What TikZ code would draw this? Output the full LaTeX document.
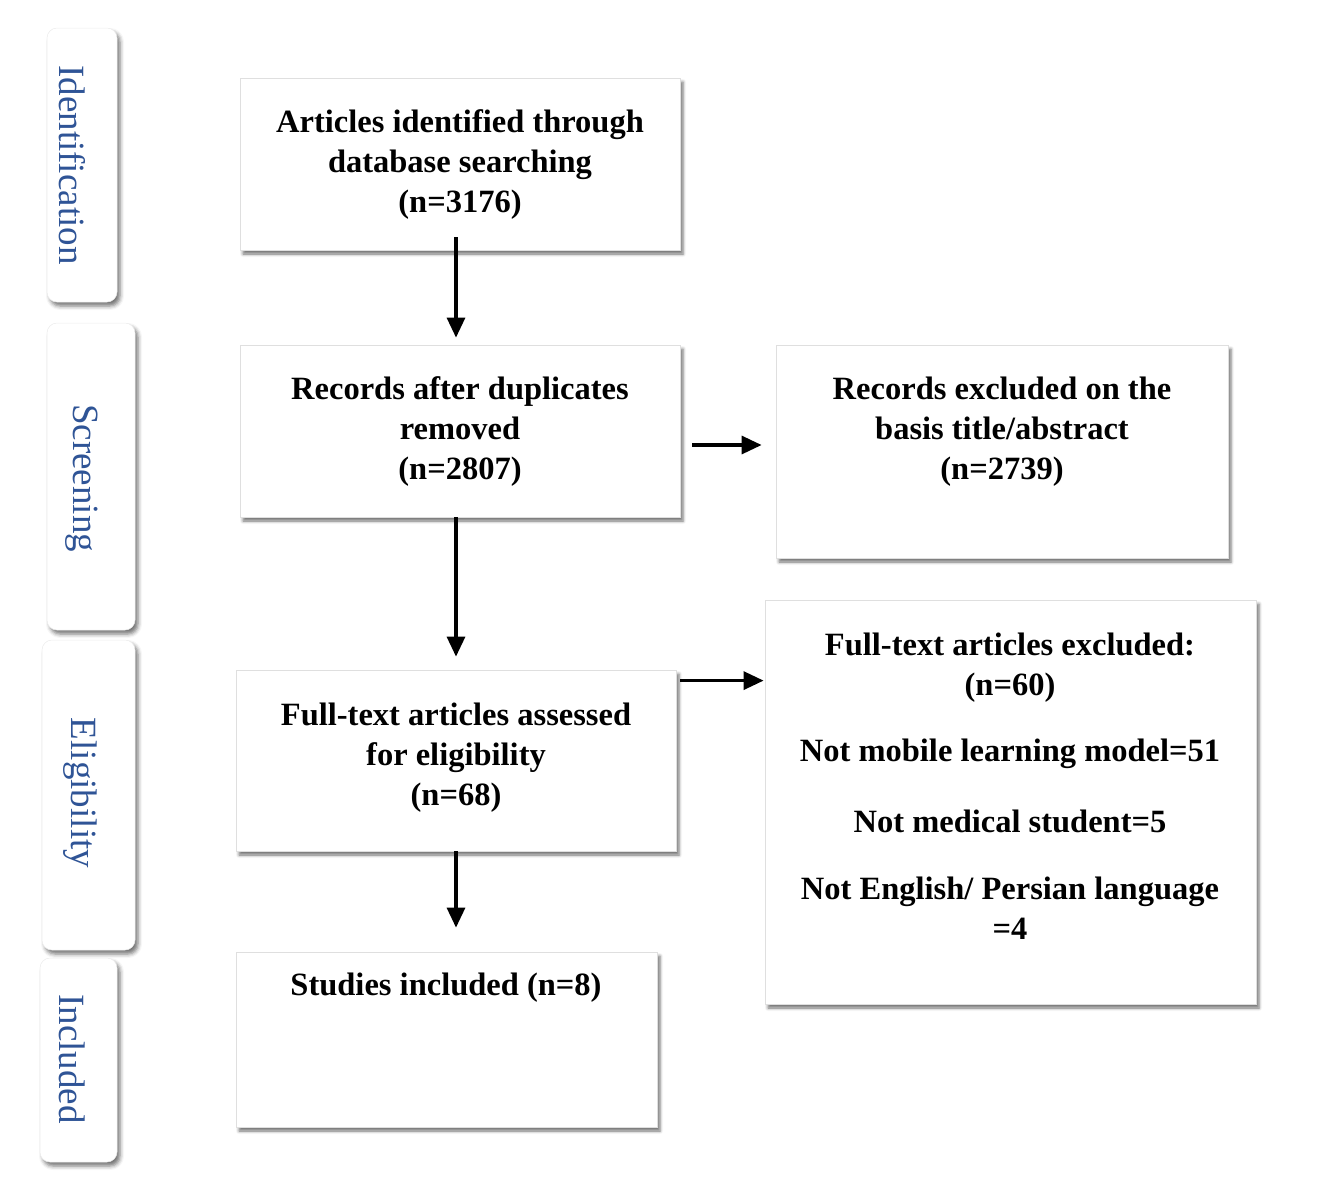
\documentclass[tikz,border=0pt]{standalone}
\usepackage{fontspec}
\setmainfont{Liberation Serif}
\usetikzlibrary{arrows.meta,shadows.blur}
\definecolor{lblblue}{RGB}{47,84,150}
\begin{document}
\begin{tikzpicture}[x=1pt,y=-1pt,
  mainbox/.style={draw=gray!25, line width=0.8pt, fill=white, inner sep=0pt,
    blur shadow={shadow xshift=3pt, shadow yshift=-4pt, shadow blur radius=3pt, shadow opacity=55}},
  sidebox/.style={draw=gray!15, line width=0.5pt, fill=white, inner sep=0pt, rounded corners=10pt,
    blur shadow={shadow xshift=3pt, shadow yshift=-4pt, shadow blur radius=4pt, shadow opacity=55}},
  btext/.style={font=\fontsize{32.5}{40}\selectfont\bfseries, align=center, inner sep=0pt},
  stext/.style={font=\fontsize{37}{40}\selectfont, text=lblblue, rotate=-90, inner sep=0pt},
  arr/.style={-{Triangle[length=20pt,width=18pt]}, line width=3.2pt}]
\useasboundingbox (0,0) rectangle (1344,1195);

% side labels
\node[sidebox, minimum width=70pt, minimum height=274pt] (sI) at (82,165) {};
\node[sidebox, minimum width=88pt, minimum height=307pt] (sS) at (91,476.5) {};
\node[sidebox, minimum width=93pt, minimum height=310pt] (sE) at (88.5,795) {};
\node[sidebox, minimum width=77pt, minimum height=204pt] (sN) at (78.5,1060) {};
\node[stext] (tI) at (72,165) {Identification};
\node[stext] (tS) at (82,478) {Screening};
\node[stext] (tE) at (80,793) {Eligibility};
\node[stext] (tN) at (72,1059) {Included};

% main boxes
\node[mainbox, minimum width=440pt, minimum height=172pt] (A) at (460,164) {};
\node[mainbox, minimum width=440pt, minimum height=172pt] (B) at (460,431) {};
\node[mainbox, minimum width=452pt, minimum height=213pt] (C) at (1002,451.5) {};
\node[mainbox, minimum width=440pt, minimum height=181pt] (D) at (456,760.5) {};
\node[mainbox, minimum width=491pt, minimum height=404pt] (E) at (1010.5,802) {};
\node[mainbox, minimum width=421pt, minimum height=175pt] (F) at (446.5,1039.5) {};

% texts
\node[btext] (tA) at (460,165) {Articles identified through\\database searching\\(n=3176)};
\node[btext] (tB) at (460,432) {Records after duplicates\\removed\\(n=2807)};
\node[btext] (tC) at (1002,432) {Records excluded on the\\basis title/abstract\\(n=2739)};
\node[btext] (tD) at (456,758) {Full-text articles assessed\\for eligibility\\(n=68)};
\node[btext] (tF) at (446,988) {Studies included (n=8)};
\node[btext] (tE1) at (1010,667.5) {Full-text articles excluded:\\(n=60)};
\node[btext] (tE2) at (1010,754) {Not mobile learning model=51};
\node[btext] (tE3) at (1010,821) {Not medical student=5};
\node[btext] (tE4) at (1010,908) {Not English/ Persian language\\=4};

% connectors
\draw[arr, shorten >=7pt] ([xshift=-4pt,yshift=13pt]A.south) -- ([xshift=-4pt]B.north);
\draw[arr, shorten >=13pt] (B.south -| D.north) -- (D.north);
\draw[arr, shorten >=24pt] (D.south) -- (D.south |- F.north);
\draw[arr, shorten <=12pt, shorten >=14pt] ([yshift=-14pt]B.east) -- ([yshift=-14pt]B.east -| C.west);
\draw[arr, shorten <=4pt, shorten >=1pt] ([yshift=-11pt]D.north east) -- ([yshift=-11pt]D.north east -| E.west);
\end{tikzpicture}
\end{document}
